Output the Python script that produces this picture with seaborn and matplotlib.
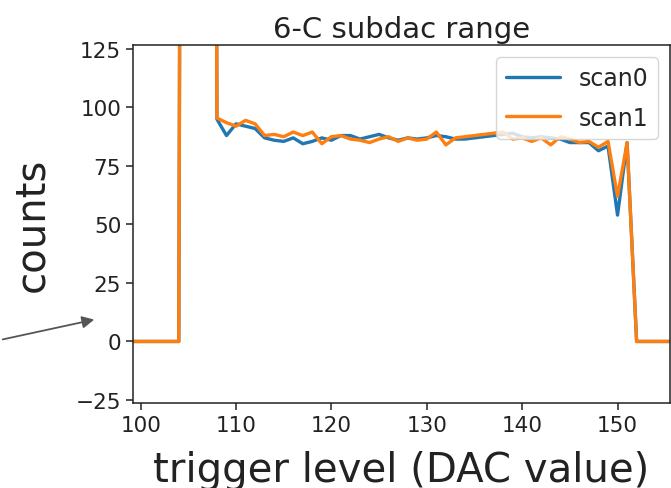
import numpy as np
import pandas as pd
import matplotlib
matplotlib.use("Agg")
import matplotlib.pyplot as plt
import seaborn as sns

# ---- data ----
trigger_level = list(range(99, 157))

scan0 = ([0, 0, 0, 0, 0, 0,                 # 99-104
          1500, 1700, 1400,                 # 105-107 (off scale)
          95, 88, 93, 92, 91, 87, 86, 85.5, 87, 84.5,   # 108-117
          85.5, 87, 86, 88, 88, 86.5, 87.5, 88.5, 87, 86,  # 118-127
          87, 86.5, 87, 88, 87.5, 86.5, 86.5, 87, 87.5, 88,  # 128-137
          88.5, 89, 87.5, 87, 87.5, 87, 86.5, 85, 85, 85,  # 138-147
          81.5, 83.5, 54, 85,                # 148-151
          0, 0, 0, 0, 0])                    # 152-156

scan1 = ([0, 0, 0, 0, 0, 0,
          1500, 1700, 1400,
          95.5, 93.5, 92, 94.5, 93, 88, 88.5, 87.5, 89.5, 88,
          89.5, 84.5, 87.5, 88, 86.5, 86, 85, 86.5, 87.5, 85.5,
          87, 86, 86.5, 89.5, 84, 87, 87.5, 88, 88.5, 89,
          89.5, 86.5, 87, 85.5, 87, 84, 87.5, 86.5, 85, 85.5,
          83, 85.5, 62, 85,
          0, 0, 0, 0, 0])

series_names = ["scan0", "scan1"]
colors = ["#1f77b4", "#ff7f0e"]

df = pd.DataFrame({
    "trigger": trigger_level * 2,
    "counts": scan0 + scan1,
    "scan": [series_names[0]] * len(scan0) + [series_names[1]] * len(scan1),
})

sns.set_style("ticks")
plt.rcParams["font.family"] = ["DejaVu Sans"]

fig = plt.figure(figsize=(6.71, 4.89), dpi=100)
ax = fig.add_axes([133 / 671, 85 / 489, 537 / 671, 358 / 489])

sns.lineplot(data=df, x="trigger", y="counts", hue="scan",
             hue_order=series_names, palette=colors, linewidth=2.4, ax=ax)

ax.set_xlim(99.2, 155.5)
ax.set_ylim(-26.3, 126.7)
ax.set_xticks([100, 110, 120, 130, 140, 150])
ax.set_yticks([-25, 0, 25, 50, 75, 100, 125])
ax.tick_params(labelsize=15.5, length=5, width=1.1, colors="#222222")
for s in ax.spines.values():
    s.set_linewidth(1.1)
    s.set_color("#222222")

ax.set_title("6-C subdac range", fontsize=21, color="#222222")
ax.set_xlabel("trigger level (DAC value)", fontsize=29, color="#222222")
ax.set_ylabel("counts", fontsize=29, color="#222222")
ax.yaxis.set_label_coords(-0.15, 0.5)
ax.xaxis.set_label_coords(0.5, -0.13)

leg = ax.legend(loc="upper right", fontsize=17, frameon=True,
                handlelength=2.3, borderaxespad=0.5, labelspacing=0.65)
leg.get_frame().set_alpha(0.8)
leg.get_frame().set_edgecolor("#cccccc")
for line in leg.get_lines():
    line.set_linewidth(2.4)

ax.annotate("", xy=(97, 169), xycoords="figure pixels",
            xytext=(0, 148), textcoords="figure pixels",
            arrowprops=dict(arrowstyle="-|>", color="#555555", lw=1.3,
                            mutation_scale=18))

fig.savefig("out.png", dpi=100)
